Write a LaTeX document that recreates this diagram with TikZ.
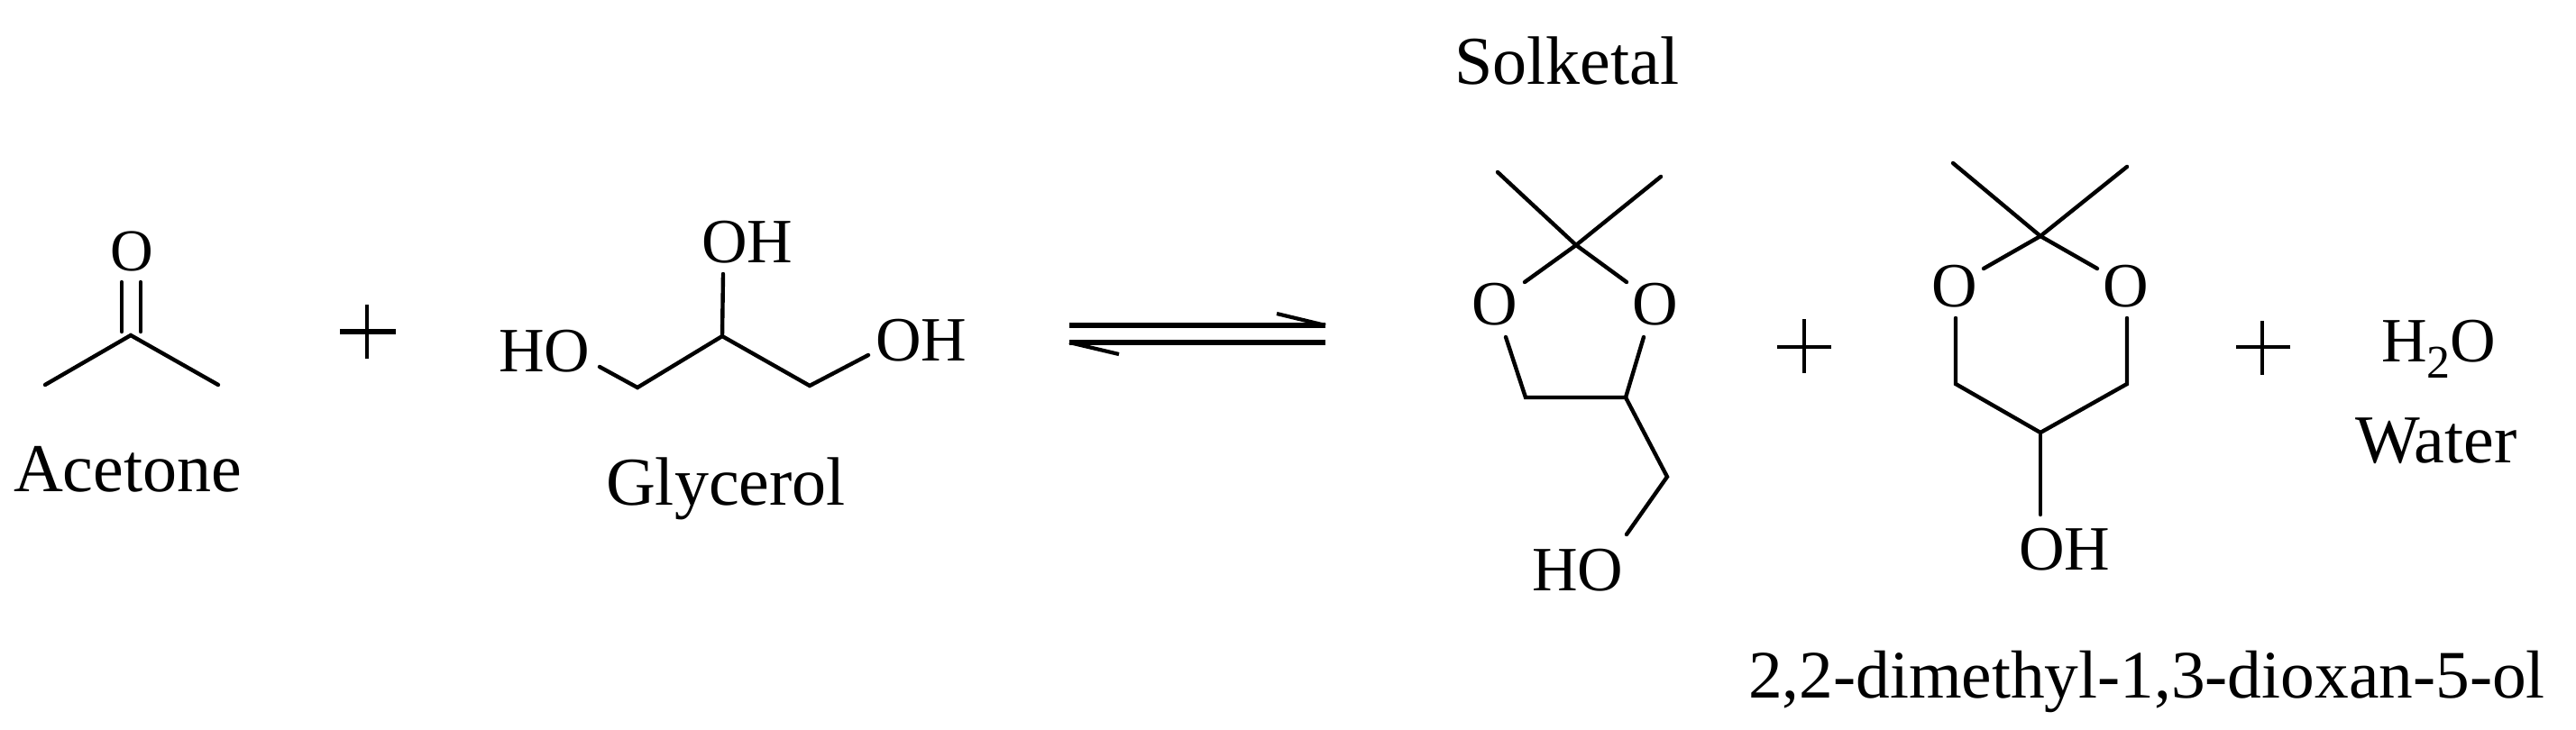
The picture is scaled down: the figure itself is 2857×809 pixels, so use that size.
\documentclass[tikz,border=0pt]{standalone}
\usepackage{fontspec}
\setmainfont{Liberation Serif}
\newcommand{\szname}{\fontsize{76}{80}\selectfont}
\newcommand{\szatom}{\fontsize{70}{74}\selectfont}
\tikzset{
  bond/.style={draw=black,line width=4.4pt,line cap=round,line join=miter},
  thinbar/.style={draw=black,line width=4.2pt,line cap=butt},
  thickbar/.style={draw=black,line width=6.2pt,line cap=butt},
  label/.style={inner sep=0pt,outer sep=0pt,anchor=base west,text=black,font=\szname},
  atom/.style={inner sep=0pt,outer sep=0pt,anchor=base west,text=black,font=\szatom},
}
\begin{document}
\begin{tikzpicture}[x=1pt,y=-1pt]
\useasboundingbox (0,0) rectangle (2857,809);
% ---------- names
\node[label] (acetone) at (15,545) {Acetone};
\node[label] (glycerol) at (672,560) {Glycerol};
\node[label] (solketal) at (1613,93) {Solketal};
\node[label,font=\fontsize{75.4}{80}\selectfont] (dioxanol) at (1939,774) {2,2-dimethyl-1,3-dioxan-5-ol};
\node[label] (water) at (2612,513) {Water};
% ---------- acetone
\node[atom,font=\fontsize{66}{70}\selectfont] (aO) at (122,300) {O};
\coordinate (aC) at (145,372);
\coordinate (aMe1) at (50,427);
\coordinate (aMe2) at (242,427);
\coordinate (aD1) at (135,313);
\coordinate (aD2) at (156,313);
\coordinate (aD1b) at (135,368);
\coordinate (aD2b) at (156,368);
\draw[bond] (aMe1) -- (aC) -- (aMe2);
\draw[bond] (aD1) -- (aD1b);
\draw[bond] (aD2) -- (aD2b);
% ---------- plus 1
\coordinate (p1l) at (377,368); \coordinate (p1r) at (439,368);
\coordinate (p1t) at (407,338); \coordinate (p1b) at (407,398);
\draw[thickbar] (p1l) -- (p1r);
\draw[thinbar] (p1t) -- (p1b);
% ---------- glycerol
\node[atom] (gOHt) at (778,291) {OH};
\node[atom] (gHO) at (553,412) {HO};
\node[atom] (gOHr) at (971,400) {OH};
\coordinate (gOa) at (665,407);
\coordinate (gC1) at (707,430);
\coordinate (gC2) at (801,373);
\coordinate (gC3) at (898,428);
\coordinate (gOb) at (963,394);
\coordinate (gOc) at (802,304);
\draw[bond] (gOa) -- (gC1) -- (gC2) -- (gC3) -- (gOb);
\draw[bond] (gC2) -- (gOc);
% ---------- equilibrium arrows
\coordinate (e1l) at (1186,361); \coordinate (e1r) at (1470,361);
\coordinate (e1b) at (1416,348);
\coordinate (e2l) at (1186,380); \coordinate (e2r) at (1470,380);
\coordinate (e2b) at (1241,393);
\draw[thickbar] (e1l) -- (e1r);
\draw[thickbar] (e2l) -- (e2r);
\draw[thinbar] (e1b) -- (e1r);
\draw[thinbar] (e2b) -- (e2l);
% ---------- solketal
\node[atom] (sO1) at (1632,360) {O};
\node[atom] (sO2) at (1810,360) {O};
\node[atom] (sHO) at (1699,655) {HO};
\coordinate (sC) at (1748,272);
\coordinate (sMe1) at (1661,191);
\coordinate (sMe2) at (1842,196);
\coordinate (sE1) at (1691,313);
\coordinate (sE2) at (1804,313);
\coordinate (sE3) at (1670,374);
\coordinate (sE4) at (1823,374);
\coordinate (sC4) at (1692,441);
\coordinate (sC5) at (1803,441);
\coordinate (sC6) at (1849,529);
\coordinate (sE5) at (1804,593);
\draw[bond] (sMe1) -- (sC) -- (sE2);
\draw[bond] (sMe2) -- (sC) -- (sE1);
\draw[bond] (sE3) -- (sC4) -- (sC5) -- (sE4);
\draw[bond] (sC5) -- (sC6) -- (sE5);
% ---------- plus 2
\coordinate (p2l) at (1971,385); \coordinate (p2r) at (2031,385);
\coordinate (p2t) at (2001,354); \coordinate (p2b) at (2001,414);
\draw[thinbar] (p2l) -- (p2r);
\draw[thinbar] (p2t) -- (p2b);
% ---------- dioxanol
\node[atom] (dO1) at (2142,340) {O};
\node[atom] (dO2) at (2332,340) {O};
\node[atom] (dOH) at (2239,632) {OH};
\coordinate (dC) at (2263,262);
\coordinate (dMe1) at (2166,181);
\coordinate (dMe2) at (2359,185);
\coordinate (dE1) at (2200,298);
\coordinate (dE2) at (2326,298);
\coordinate (dE3) at (2169,353);
\coordinate (dE4) at (2359,353);
\coordinate (dC4) at (2169,426);
\coordinate (dC5) at (2263,480);
\coordinate (dC6) at (2359,426);
\coordinate (dE5) at (2263,571);
\draw[bond] (dMe1) -- (dC) -- (dE2);
\draw[bond] (dMe2) -- (dC) -- (dE1);
\draw[bond] (dE3) -- (dC4) -- (dC5) -- (dC6) -- (dE4);
\draw[bond] (dC5) -- (dE5);
% ---------- plus 3
\coordinate (p3l) at (2480,385); \coordinate (p3r) at (2540,385);
\coordinate (p3t) at (2509,356); \coordinate (p3b) at (2509,416);
\draw[thinbar] (p3l) -- (p3r);
\draw[thinbar] (p3t) -- (p3b);
% ---------- water
\node[atom] (h2o) at (2641,401) {H\raisebox{-18pt}{\fontsize{52}{54}\selectfont 2}O};
\end{tikzpicture}
\end{document}
